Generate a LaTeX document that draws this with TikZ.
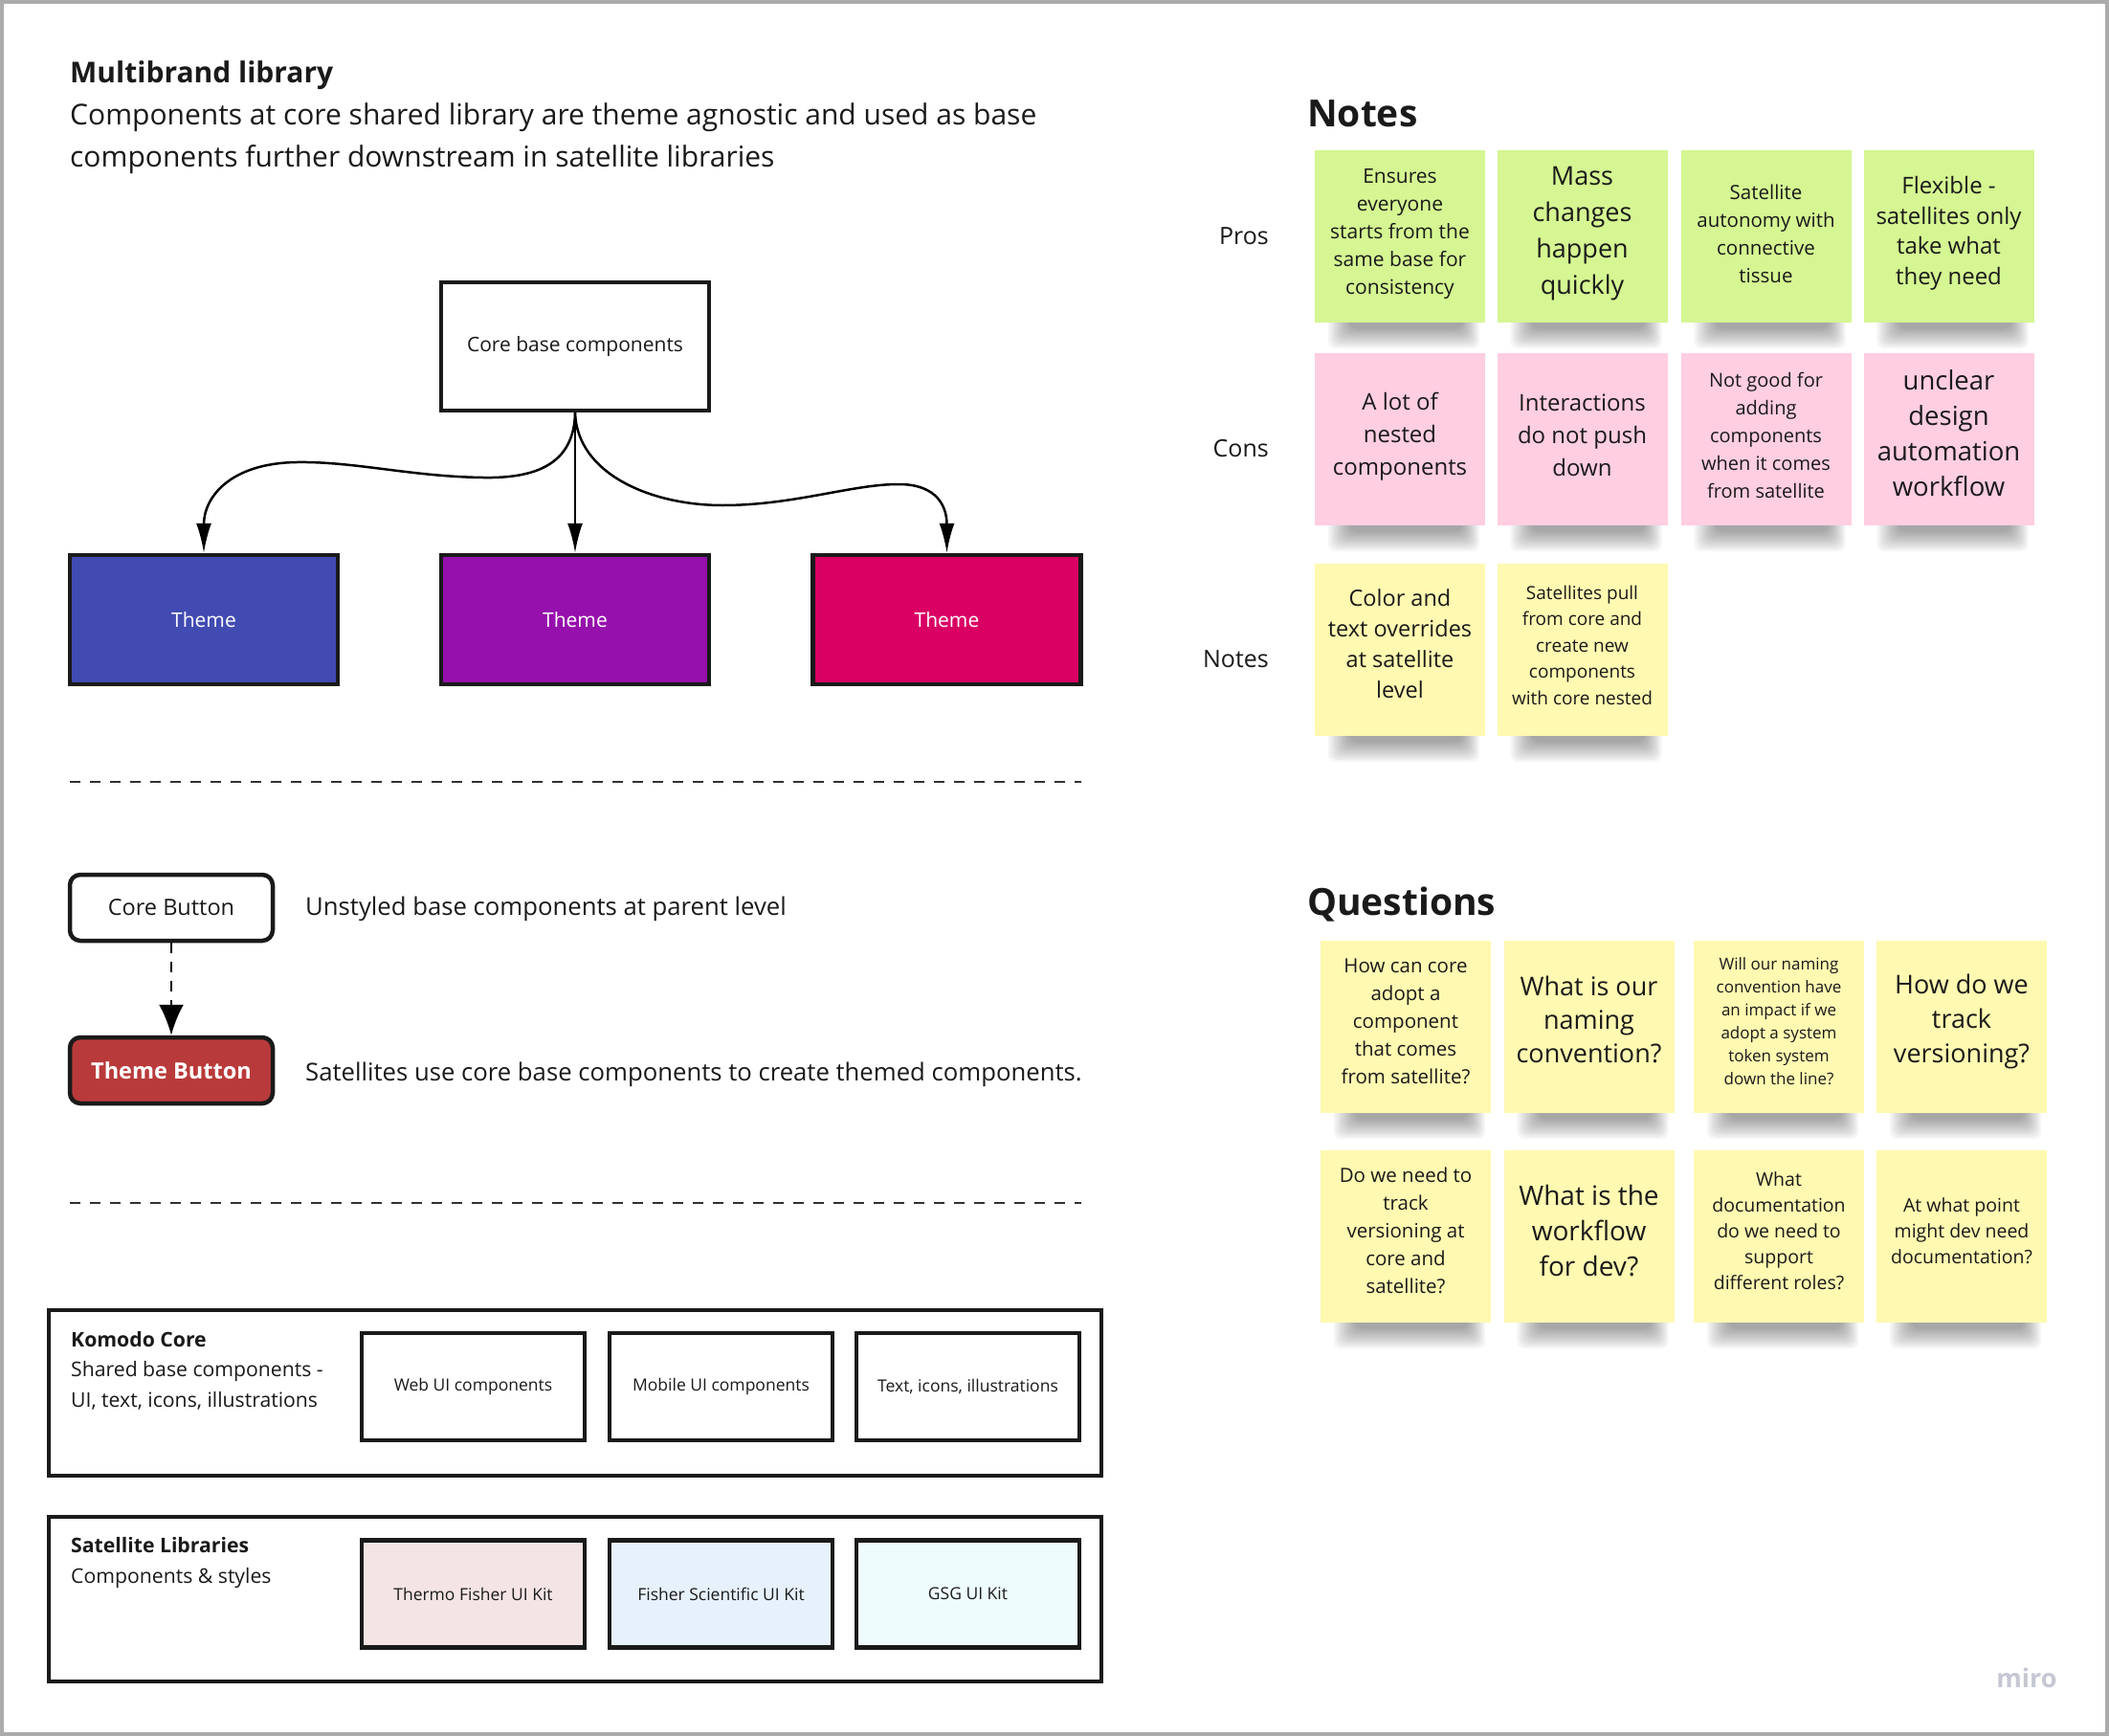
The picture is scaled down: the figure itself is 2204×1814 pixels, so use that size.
\documentclass[tikz,border=0pt]{standalone}
\usepackage{fontspec}
\setmainfont{Open Sans}
\usetikzlibrary{arrows.meta,backgrounds,calc}
\definecolor{edge}{HTML}{1A1A1A}
\definecolor{txt}{HTML}{1A1A1A}
\definecolor{framegray}{HTML}{ABABAB}
\definecolor{thblue}{HTML}{414BB2}
\definecolor{thpurple}{HTML}{9510AC}
\definecolor{thred}{HTML}{DA0063}
\definecolor{btnred}{HTML}{B93A3A}
\definecolor{stgreen}{HTML}{D5F692}
\definecolor{stpink}{HTML}{FFCEE0}
\definecolor{styellow}{HTML}{FFF9B1}
\definecolor{kitpink}{HTML}{F5E4E4}
\definecolor{kitblue}{HTML}{E6F1FC}
\definecolor{kitcyan}{HTML}{EEFCFD}
\definecolor{mirogray}{HTML}{C5C7D3}
\newcommand\myfs[2]{\fontsize{#1pt}{#2pt}\selectfont}
% #1 name, #2 position, #3 fill, #4 font, #5 text shift up, #6 text
\newcommand\stickynote[6]{%
  \node[stickybox, fill=#3] (#1) at (#2) {};
  \node[stickytext, font=#4] (#1-t) at ($(#1.center)+(0,-#5)$) {#6};
}
\begin{document}
\begin{tikzpicture}[x=1pt,y=-1pt,
  box/.style={draw=edge, line width=4.5pt, fill=white, inner sep=0pt, align=center, text=txt},
  themebox/.style={draw=edge, line width=4.5pt, inner sep=0pt, minimum width=280pt, minimum height=135pt, text=white, font=\myfs{21}{28}},
  kitbox/.style={box, minimum width=233pt, minimum height=112pt, font=\myfs{17.5}{24}},
  btn/.style={draw=edge, line width=4.5pt, rounded corners=11pt, minimum width=212pt, minimum height=69pt, inner sep=0pt},
  conn/.style={draw=black, line width=2.5pt, -{Latex[length=31pt,width=16pt]}},
  dconn/.style={draw=black, line width=2.5pt, dash pattern=on 11pt off 9pt, -{Latex[length=32pt,width=26pt]}},
  sepline/.style={draw=edge!90, line width=2.5pt, dash pattern=on 11pt off 10pt},
  stickybox/.style={minimum width=178pt, minimum height=180pt, inner sep=0pt},
  stickytext/.style={inner sep=0pt, align=center, text=txt},
  plain/.style={inner sep=0pt, text=txt, align=left}
]
\useasboundingbox (0,0) rectangle (2204,1814);
\draw[framegray, line width=4pt] (2,2) rectangle (2202,1812);

% ---------- left: header ----------
\node[plain, anchor=west, font=\bfseries\myfs{30}{40}] (title) at (73,79) {Multibrand library};
\node[plain, anchor=west, font=\myfs{30}{43.6}] (subtitle) at (73,144.5)
  {Components at core shared library are theme agnostic and used as base\\components further downstream in satellite libraries};

% ---------- tree ----------
\node[box, minimum width=280pt, minimum height=134pt, font=\myfs{21}{28}] (core) at (601,362) {Core base components};
\node[themebox, fill=thblue] (t1) at (213,647.5) {Theme};
\node[themebox, fill=thpurple] (t2) at (601,647.5) {Theme};
\node[themebox, fill=thred] (t3) at (989.5,647.5) {Theme};

\draw[conn] (core.south) .. controls (600,485) and (560,500) .. (505,499)
   .. controls (430,498) and (370,482) .. (310,483)
   .. controls (240,484) and (213,520) .. (t1.north);
\draw[conn] (core.south) -- (t2.north);
\draw[conn] (core.south) .. controls (603,495) and (680,528) .. (755,528)
   .. controls (830,528) and (890,506) .. (939,506)
   .. controls (980,506) and (989.5,530) .. (t3.north);

\draw[sepline] (73,817) -- (1130,817);

% ---------- buttons ----------
\node[btn, fill=white, text=txt, font=\myfs{23.5}{30}] (cb) at (179,948.5) {Core Button};
\node[btn, fill=btnred, text=white, font=\bfseries\myfs{23.5}{30}] (tb) at (179,1118.5) {Theme Button};
\draw[dconn] (cb.south) -- (tb.north);
\node[plain, anchor=west, font=\myfs{25.7}{32}] (d1) at (319,950) {Unstyled base components at parent level};
\node[plain, anchor=west, font=\myfs{25.7}{32}] (d2) at (319,1123) {Satellites use core base components to create themed components.};

\draw[sepline] (73,1257) -- (1130,1257);

% ---------- Komodo core ----------
\node[box, minimum width=1100pt, minimum height=173pt] (kc) at (601,1455.5) {};
\node[plain, anchor=north west, font=\myfs{21.2}{31.5}] (kctext) at (74,1391)
  {\textbf{Komodo Core}\\Shared base components -\\UI, text, icons, illustrations};
\node[kitbox] (web) at (494.5,1449) {Web UI components};
\node[kitbox] (mob) at (753.5,1449) {Mobile UI components};
\node[kitbox] (tix) at (1011.5,1449) {Text, icons, illustrations};

% ---------- Satellite libraries ----------
\node[box, minimum width=1100pt, minimum height=172pt] (sl) at (601,1671) {};
\node[plain, anchor=north west, font=\myfs{21.2}{32}] (sltext) at (74,1606)
  {\textbf{Satellite Libraries}\\Components \& styles};
\node[kitbox, fill=kitpink] (k1) at (494.5,1665.5) {Thermo Fisher UI Kit};
\node[kitbox, fill=kitblue] (k2) at (753.5,1665.5) {Fisher Scientific UI Kit};
\node[kitbox, fill=kitcyan] (k3) at (1011.5,1665.5) {GSG UI Kit};

% ---------- Notes ----------
\node[plain, anchor=west, font=\bfseries\myfs{39}{48}] (notesh) at (1366,119) {Notes};
\node[plain, anchor=east, font=\myfs{25}{32}] (lpros) at (1326,247) {Pros};
\node[plain, anchor=east, font=\myfs{25}{32}] (lcons) at (1326,469) {Cons};
\node[plain, anchor=east, font=\myfs{25}{32}] (lnotes) at (1326,689) {Notes};

\stickynote{pro1}{1463,247}{stgreen}{\myfs{21}{29}}{2}{Ensures\\everyone\\starts from the\\same base for\\consistency}
\stickynote{pro2}{1653.5,247}{stgreen}{\myfs{27}{38}}{3}{Mass\\changes\\happen\\quickly}
\stickynote{pro3}{1845.5,247}{stgreen}{\myfs{20.5}{29}}{3}{Satellite\\autonomy with\\connective\\tissue}
\stickynote{pro4}{2036.5,247}{stgreen}{\myfs{24}{31.5}}{3}{Flexible -\\satellites only\\take what\\they need}

\stickynote{con1}{1463,459}{stpink}{\myfs{24}{34}}{3}{A lot of\\nested\\components}
\stickynote{con2}{1653.5,459}{stpink}{\myfs{24}{34}}{4}{Interactions\\do not push\\down}
\stickynote{con3}{1845.5,459}{stpink}{\myfs{20}{29}}{4}{Not good for\\adding\\components\\when it comes\\from satellite}
\stickynote{con4}{2036.5,459}{stpink}{\myfs{27.5}{37}}{6}{unclear\\design\\automation\\workflow}

\stickynote{not1}{1463,679}{styellow}{\myfs{23.5}{32}}{6}{Color and\\text overrides\\at satellite\\level}
\stickynote{not2}{1653.5,679}{styellow}{\myfs{19}{27.5}}{5}{Satellites pull\\from core and\\create new\\components\\with core nested}

% ---------- Questions ----------
\node[plain, anchor=west, font=\bfseries\myfs{39}{48}] (questh) at (1366,945) {Questions};
\stickynote{q1}{1469,1073}{styellow}{\myfs{20.5}{29}}{6}{How can core\\adopt a\\component\\that comes\\from satellite?}
\stickynote{q2}{1660.5,1073}{styellow}{\myfs{27}{35}}{8}{What is our\\naming\\convention?}
\stickynote{q3}{1859,1073}{styellow}{\myfs{17}{24}}{6}{Will our naming\\convention have\\an impact if we\\adopt a system\\token system\\down the line?}
\stickynote{q4}{2050,1073}{styellow}{\myfs{27}{36}}{6}{How do we\\track\\versioning?}
\stickynote{q5}{1469,1292}{styellow}{\myfs{20.5}{29}}{6}{Do we need to\\track\\versioning at\\core and\\satellite?}
\stickynote{q6}{1660.5,1292}{styellow}{\myfs{28}{37}}{6}{What is the\\workflow\\for dev?}
\stickynote{q7}{1859,1292}{styellow}{\myfs{19.5}{27}}{6}{What\\documentation\\do we need to\\support\\different roles?}
\stickynote{q8}{2050,1292}{styellow}{\myfs{19.5}{27}}{6}{At what point\\might dev need\\documentation?}

% ---------- background + sticky shadows ----------
\begin{scope}[on background layer]
\fill[white] (0,0) rectangle (2204,1814);
\foreach \n in {pro1,pro2,pro3,pro4,con1,con2,con3,con4,not1,not2,q1,q2,q3,q4,q5,q6,q7,q8}{
  \foreach \k in {0,...,9}{
    \fill[black, opacity=0.04, rounded corners=8pt]
      ($(\n.south west)+(14+2.5*\k,-12)$) rectangle ($(\n.south east)+(-6-2*\k,27-2.3*\k)$);
  }
}
\end{scope}

\node[inner sep=0pt, text=mirogray, font=\bfseries\myfs{27}{34}] (miro) at (2118,1753) {miro};
\end{tikzpicture}
\end{document}
